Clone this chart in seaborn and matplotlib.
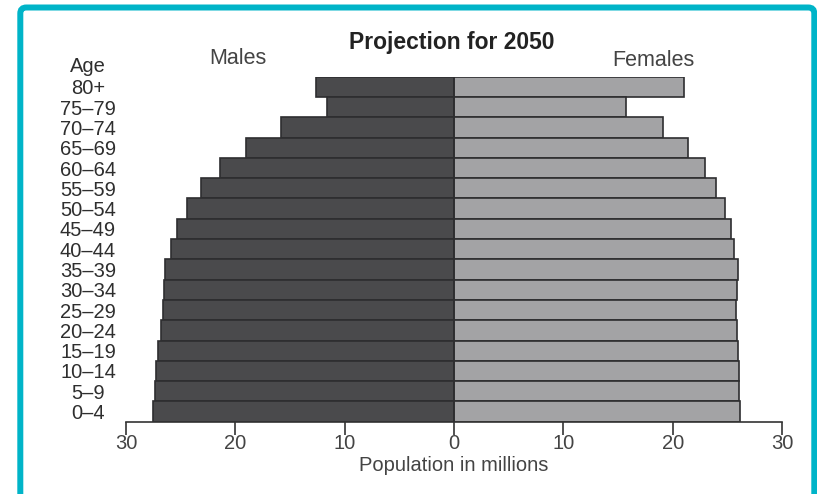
import matplotlib
matplotlib.use("Agg")
import matplotlib.pyplot as plt
from matplotlib.patches import FancyBboxPatch
from matplotlib.transforms import IdentityTransform
import seaborn as sns
import pandas as pd

ages = ["80+", "75\u201379", "70\u201374", "65\u201369", "60\u201364", "55\u201359", "50\u201354",
        "45\u201349", "40\u201344", "35\u201339", "30\u201334", "25\u201329", "20\u201324",
        "15\u201319", "10\u201314", "5\u20139", "0\u20134"]
males = [12.6, 11.6, 15.8, 19.0, 21.4, 23.1, 24.4, 25.3, 25.9, 26.4, 26.55, 26.6, 26.8,
         27.1, 27.3, 27.35, 27.5]
females = [21.0, 15.7, 19.1, 21.4, 23.0, 24.0, 24.8, 25.35, 25.65, 25.95, 25.9, 25.8, 25.85,
           26.0, 26.05, 26.1, 26.2]
xticks = [-30, -20, -10, 0, 10, 20, 30]
xticklabels = ["30", "20", "10", "0", "10", "20", "30"]

df = pd.DataFrame({
    "age": ages + ages,
    "sex": ["Males"] * len(ages) + ["Females"] * len(ages),
    "value": [-m for m in males] + females,
})

sns.set_style("white")
plt.rcParams["font.family"] = ["Liberation Sans", "DejaVu Sans"]
txt = "#2e2e2e"

W, H = 817, 494
fig = plt.figure(figsize=(W / 100, H / 100), dpi=100)
left, right, top, bottom = 126, 782, 76.7, 421.7
ax = fig.add_axes([left / W, 1 - bottom / H, (right - left) / W, (bottom - top) / H])

sns.barplot(data=df, x="value", y="age", hue="sex", order=ages, dodge=False,
            palette={"Males": "#4a4a4c", "Females": "#a2a3a6"}, width=1.0,
            edgecolor="#2e2e30", linewidth=1.2, orient="h", ax=ax, legend=False)

ax.set_xlim(-30, 30)
ax.set_ylim(len(ages) - 0.5, -0.5)
ax.set_xticks(xticks)
ax.set_xticklabels(xticklabels, fontsize=14.5, color="#444444")
ax.set_xlabel("Population in millions", fontsize=14.5, color="#444444", labelpad=2)
ax.set_ylabel("")
for s in ["top", "right", "left"]:
    ax.spines[s].set_visible(False)
ax.spines["bottom"].set_color("#333333")
ax.spines["bottom"].set_linewidth(1.2)
ax.tick_params(axis="x", direction="out", length=9, width=1.2, color="#333333", pad=0,
               bottom=True)
ax.tick_params(axis="y", length=0, pad=27.4, labelsize=14.5, labelcolor=txt)
for t in ax.get_yticklabels():
    t.set_ha("center")
    t.set_va("center_baseline")
ax.axvline(0, color="#2e2e30", linewidth=1.2, zorder=5)

fig.text(88 / W, 1 - 67 / H, "Age", ha="center", va="center", fontsize=14.5, color=txt)
fig.text(238 / W, 1 - 59 / H, "Males", ha="center", va="center", fontsize=15.5, color="#444444")
fig.text(653 / W, 1 - 60 / H, "Females", ha="center", va="center", fontsize=15.5, color="#444444")
fig.text(452 / W, 1 - 42 / H, "Projection for 2050", ha="center", va="center", fontsize=16.5,
         fontweight="bold", color="#222222")

border = FancyBboxPatch((20.3, -20), 794, H + 20 - 7.5,
                        boxstyle="round,pad=0,rounding_size=6",
                        transform=IdentityTransform(), fill=False,
                        edgecolor="#00b4c8", linewidth=6 * 0.72)
fig.patches.append(border)

fig.savefig("out.png", dpi=100)
